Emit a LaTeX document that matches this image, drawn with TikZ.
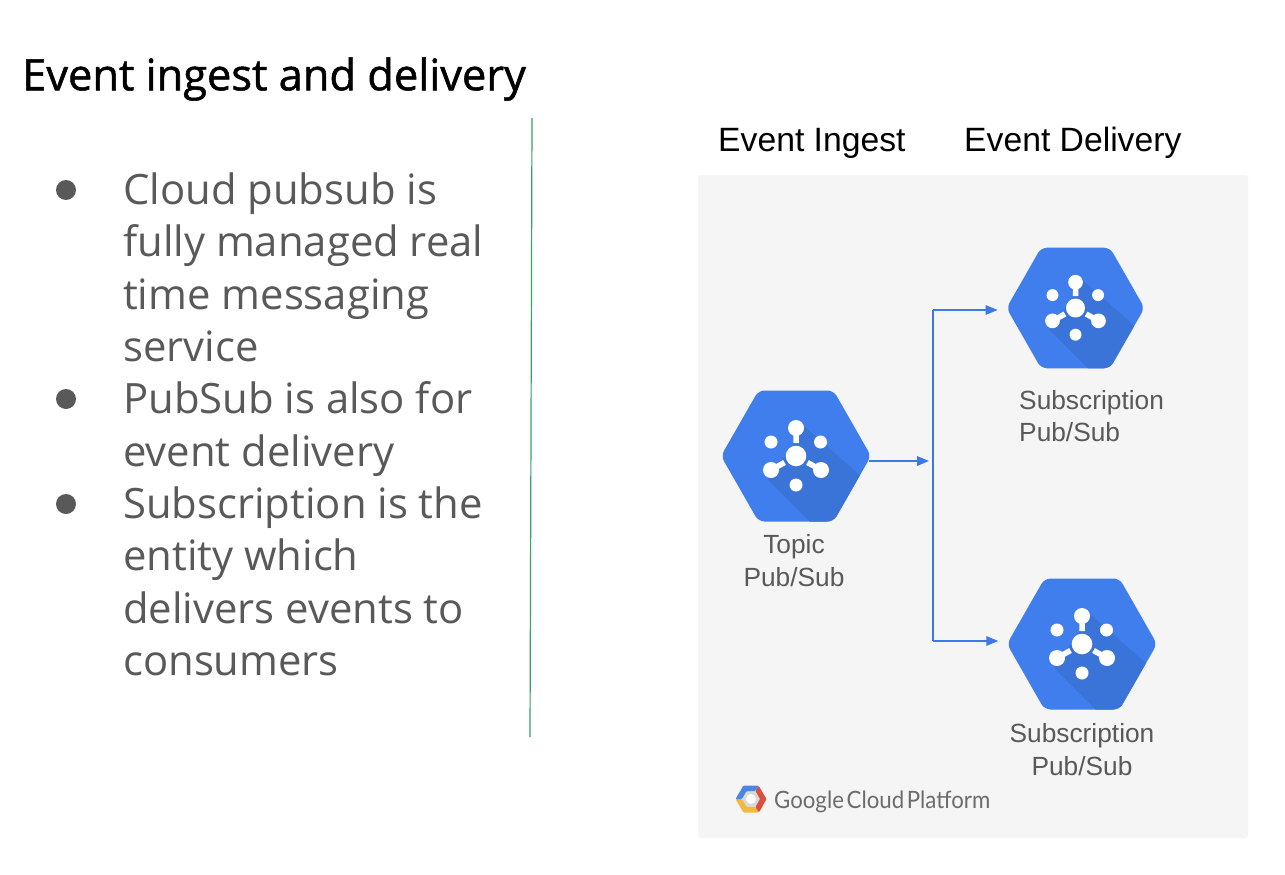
\documentclass[tikz,border=0pt]{standalone}
\usepackage{fontspec}
\setmainfont{Open Sans}
\newfontfamily\labelfont{Liberation Sans}
\newfontfamily\logofont[FakeStretch=0.93]{Lato}
\usepackage{xcolor}
\usetikzlibrary{arrows.meta,calc,positioning}
\definecolor{hexblue}{HTML}{3F7EEC}
\definecolor{hexshade}{HTML}{3B74D8}
\definecolor{flowblue}{HTML}{3C78E8}
\definecolor{panelgrey}{HTML}{F5F5F5}
\definecolor{bodygrey}{HTML}{595959}
\definecolor{rulegreen}{HTML}{34A365}
\definecolor{logoyellow}{HTML}{F4B93A}
\definecolor{logored}{HTML}{D9503F}
\definecolor{logoblue}{HTML}{4A86E8}
\tikzset{
  bodytext/.style={anchor=north west,align=left,inner sep=0pt,text=bodygrey,
    font=\fontsize{41.8}{52.4}\selectfont},
  bulletdot/.style={circle,fill=bodygrey,inner sep=0pt,minimum size=20pt},
  headtext/.style={anchor=west,inner sep=0pt,text=black,
    font=\labelfont\fontsize{33.7}{40}\selectfont},
  iconlabel/.style={align=center,inner sep=0pt,text=bodygrey,
    font=\labelfont\fontsize{26.3}{32.2}\selectfont},
  iconbox/.style={inner sep=0pt,minimum width=#1*146pt,minimum height=#1*132pt},
  flowline/.style={draw=flowblue,line width=1.5pt,-{Triangle[length=12pt,width=9.5pt]}},
  pics/pubsubhex/.style={code={
    \begin{scope}
      \clip[rounded corners=6pt] (-75,0)--(-37.5,-65.5)--(37.5,-65.5)--(75,0)--(37.5,65.5)--(-37.5,65.5)--cycle;
      \fill[hexblue] (-80,-70) rectangle (80,70);
      \fill[hexshade] (9,-29)--(90,42)--(90,70)--(18,70)--(-28,24)--cycle;
    \end{scope}
    \draw[white,line width=5.5pt] (0,-28)--(0,-13) (-25,14)--(-11.5,6.5) (25,14)--(11.5,6.5);
    \foreach \px/\py/\pr in {0/0/10.3,0/-28/8,-25/14/8,25/14/8,-25/-14/6.5,24.5/-14/6.5,0/29/6.5}
      \fill[white] (\px,\py) circle (\pr pt);
  }},
}
\begin{document}
\begin{tikzpicture}[x=1pt,y=-1pt,>=Latex]
  \useasboundingbox (0,0) rectangle (1285,875);
  \fill[white] (0,0) rectangle (1285,875);

  % Title and the bullet list on the left.
  \node[anchor=west,inner sep=0pt,text=black,font=\fontsize{43.4}{48}\selectfont\addfontfeature{FakeBold=1.2}] (title) at (22,79) {Event ingest and delivery};
  \node[bulletdot] (dota) at (66,190) {};
  \node[bulletdot] (dotb) at (66,399) {};
  \node[bulletdot] (dotc) at (66,504) {};
  \node[bodytext] (texta) at (123,172.5) {Cloud pubsub is\\fully managed real\\time messaging\\service};
  \node[bodytext] (textb) at (123,381.5) {PubSub is also for\\event delivery};
  \node[bodytext] (textc) at (123,486.5) {Subscription is the\\entity which\\delivers events to\\consumers};
  \draw[rulegreen,line width=1.2pt] (532,118)--(530,737);

  % The grey panel and its column heads.
  \fill[panelgrey,rounded corners=3pt] (698,175) rectangle (1248,838);
  \node[headtext] (ingesthead) at (718,143) {Event Ingest};
  \node[headtext] (deliveryhead) at (964,143) {Event Delivery};

  % The three Pub/Sub icons.
  \node[iconbox=1] (topic) at (796,456) {};
  \pic at (topic) {pubsubhex};
  \node[iconbox=0.92] (suba) at (1075.5,308) {};
  \pic[scale=0.92] at (suba) {pubsubhex};
  \node[iconbox=1] (subb) at (1082,644) {};
  \pic at (subb) {pubsubhex};
  \node[iconlabel] (topiclabel) at (794,560.5) {Topic\\Pub/Sub};
  \node[iconlabel,align=left,anchor=west] (subalabel) at (1019,416) {Subscription\\Pub/Sub};
  \node[iconlabel] (subblabel) at (1082,749.5) {Subscription\\Pub/Sub};

  % Connectors through the shared vertical line.
  \coordinate (bus) at (933,461);
  \coordinate (busa) at (933,310);
  \coordinate (busb) at (933,641);
  \draw[flowline,shorten >=4pt] (topic.east |- bus)--(bus);
  \draw[flowline,shorten >=10.5pt] (busa)--(suba.west |- busa);
  \draw[flowline,shorten >=10.5pt] (busb)--(subb.west |- busb);
  \draw[flowblue,line width=1.5pt] (busa)--(busb);

  % Platform logo.
  \begin{scope}[shift={(751,799)}]
    \fill[gray!30] (-9,0)--(-4.5,-8)--(4.5,-8)--(9,0)--(4.5,8)--(-4.5,8)--cycle;
    \fill[white] (0,0) circle (5pt);
    \fill[logoyellow,rounded corners=1pt] (-15.5,0)--(-9,0)--(-4.5,8)--(5,8)--(8,13.5)--(-7.5,13.5)--cycle;
    \fill[logored,rounded corners=1pt] (15.5,0)--(7.5,-13.5)--(4.5,-8)--(9,0)--(4.5,8)--(8,13.5)--cycle;
    \fill[logoblue,rounded corners=1pt] (-15.5,0)--(-7.5,-13.5)--(7.5,-13.5)--(4.5,-8)--(-4.5,-8)--(-9,0)--cycle;
  \end{scope}
  \node[anchor=west,inner sep=0pt,text=gray!85!black,font=\logofont\fontsize{23.9}{28}\selectfont] (logotext) at (774,801.5) {Google\hspace{-3pt}\ Cloud\hspace{-3pt}\ Platform};
\end{tikzpicture}
\end{document}
